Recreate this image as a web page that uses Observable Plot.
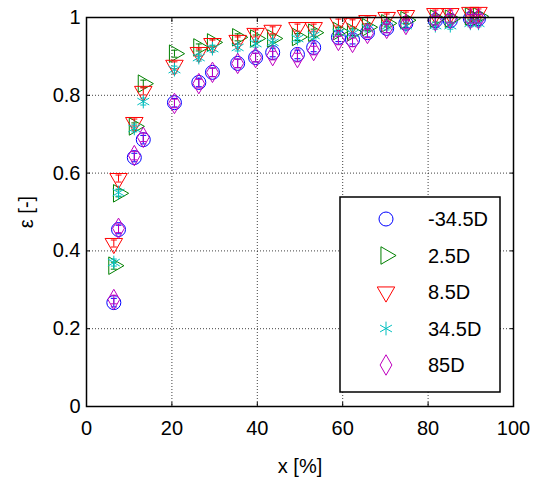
<!DOCTYPE html>
<html><head><meta charset="utf-8">
<script src="https://cdn.jsdelivr.net/npm/d3@7"></script>
<script src="https://cdn.jsdelivr.net/npm/@observablehq/plot@0.6"></script>
<style>body{margin:0;background:#fff}</style>
</head><body><div id="chart"></div>
<script>
// x positions [%] of the measurement groups
const xPos = [6.4, 7.5, 11.2, 13.3, 20.6, 26.3, 29.5, 35.4, 39.6, 43.6, 49.4, 53.2, 59.0, 62.3, 65.8, 70.3, 74.8, 81.7, 85.2, 89.9, 91.8];
const seriesNames = ["-34.5D", "2.5D", "8.5D", "34.5D", "85D"];
const yMinus345 = [0.267, 0.455, 0.640, 0.686, 0.781, 0.833, 0.859, 0.882, 0.897, 0.910, 0.905, 0.923, 0.949, 0.943, 0.961, 0.972, 0.985, 0.992, 0.992, 0.997, 0.997];
const y2p5 = [0.362, 0.548, 0.720, 0.830, 0.907, 0.923, 0.936, 0.949, 0.946, 0.946, 0.950, 0.961, 0.965, 0.962, 0.975, 0.985, 0.993, 0.997, 0.997, 1.003, 1.003];
const y8p5 = [0.419, 0.586, 0.730, 0.810, 0.877, 0.910, 0.933, 0.941, 0.959, 0.967, 0.974, 0.974, 0.987, 0.985, 0.992, 1.000, 1.005, 1.010, 1.010, 1.013, 1.013];
const y34p5 = [0.370, 0.550, 0.715, 0.784, 0.866, 0.897, 0.920, 0.923, 0.933, 0.936, 0.946, 0.954, 0.961, 0.959, 0.972, 0.977, 0.979, 0.979, 0.979, 0.985, 0.985];
const y85 = [0.275, 0.458, 0.645, 0.692, 0.779, 0.830, 0.859, 0.882, 0.897, 0.902, 0.897, 0.915, 0.941, 0.936, 0.959, 0.972, 0.982, 0.992, 0.997, 0.997, 0.997];
const seriesErr = [0.011, 0.009, 0.009, 0.009, 0.011];
const xTicks = [0, 20, 40, 60, 80, 100];
const yTicks = [0, 0.2, 0.4, 0.6, 0.8, 1];
const yTickLabels = ["0", "0.2", "0.4", "0.6", "0.8", "1"];

const seriesY = [yMinus345, y2p5, y8p5, y34p5, y85];
const colors = ["#0000ff", "#008000", "#ff0000", "#00bfbf", "#bf00bf"];
const symbols = ["circle", "triangle", "triangle", "asterisk", "diamond"];
const rotations = [0, 90, 180, 0, 0];
const radii = [7, 6.5, 6.5, 6.5, 6.2];

const capSymbol = {draw(ctx) { ctx.moveTo(-3, 0); ctx.lineTo(3, 0); }};

const marks = [
  Plot.gridX(xTicks.slice(1, -1), {stroke: "#000", strokeOpacity: 0.75, strokeDasharray: "1,2"}),
  Plot.gridY(yTicks.slice(1, -1), {stroke: "#000", strokeOpacity: 0.75, strokeDasharray: "1,2"}),
];
seriesY.forEach((ys, i) => {
  const rows = ys.map((y, j) => ({x: xPos[j], y, lo: y - seriesErr[i], hi: y + seriesErr[i]}));
  marks.push(
    Plot.ruleX(rows, {x: "x", y1: "lo", y2: "hi", stroke: colors[i], strokeWidth: 1}),
    Plot.dot(rows, {x: "x", y: "lo", symbol: capSymbol, stroke: colors[i], strokeWidth: 1}),
    Plot.dot(rows, {x: "x", y: "hi", symbol: capSymbol, stroke: colors[i], strokeWidth: 1}),
    Plot.dot(rows, {x: "x", y: "y", symbol: symbols[i], rotate: rotations[i], r: radii[i], fill: "none", stroke: colors[i], strokeWidth: 1})
  );
});
marks.push(
  Plot.frame({stroke: "#000", strokeWidth: 1.5}),
  Plot.axisX({ticks: xTicks, tickSize: -4, tickPadding: 18, tickFormat: d => String(d), label: "x [%]", labelAnchor: "center", labelOffset: 66, labelArrow: "none"}),
  Plot.axisX({anchor: "top", ticks: xTicks, tickSize: -4, tickFormat: () => "", label: null}),
  Plot.axisY({ticks: yTicks, tickSize: -4, tickPadding: 10, tickFormat: (d, i) => yTickLabels[i], label: "ε [-]", labelAnchor: "center", labelOffset: 68, labelArrow: "none"}),
  Plot.axisY({anchor: "right", ticks: yTicks, tickSize: -4, tickFormat: () => "", label: null})
);

const svg = Plot.plot({
  width: 540, height: 483,
  marginLeft: 86, marginRight: 27, marginTop: 17, marginBottom: 77,
  x: {domain: [0, 100]},
  y: {domain: [0, 1]},
  style: {fontFamily: "'Liberation Sans', Arial, sans-serif", fontSize: "20px", color: "#000", background: "#fff"},
  marks
});

// legend box inside the axes
const g = d3.select(svg).append("g").attr("transform", "translate(340,197)");
g.append("rect").attr("width", 160).attr("height", 195).attr("fill", "#fff").attr("stroke", "#000").attr("stroke-width", 1.5);
const d3Types = {circle: d3.symbolCircle, triangle: d3.symbolTriangle, asterisk: d3.symbolAsterisk, diamond: d3.symbolDiamond};
seriesNames.forEach((name, i) => {
  const cy = 22 + i * 36.5;
  g.append("path")
    .attr("d", d3.symbol(d3Types[symbols[i]], Math.PI * radii[i] * radii[i])())
    .attr("transform", `translate(46,${cy}) rotate(${rotations[i]})`)
    .attr("fill", "none").attr("stroke", colors[i]).attr("stroke-width", 1);
  g.append("text").attr("x", 88).attr("y", cy).attr("dy", "0.35em")
    .attr("text-anchor", "start")
    .attr("font-size", 20).attr("fill", "#000").text(name);
});

document.getElementById("chart").append(svg);
</script>
</body></html>
